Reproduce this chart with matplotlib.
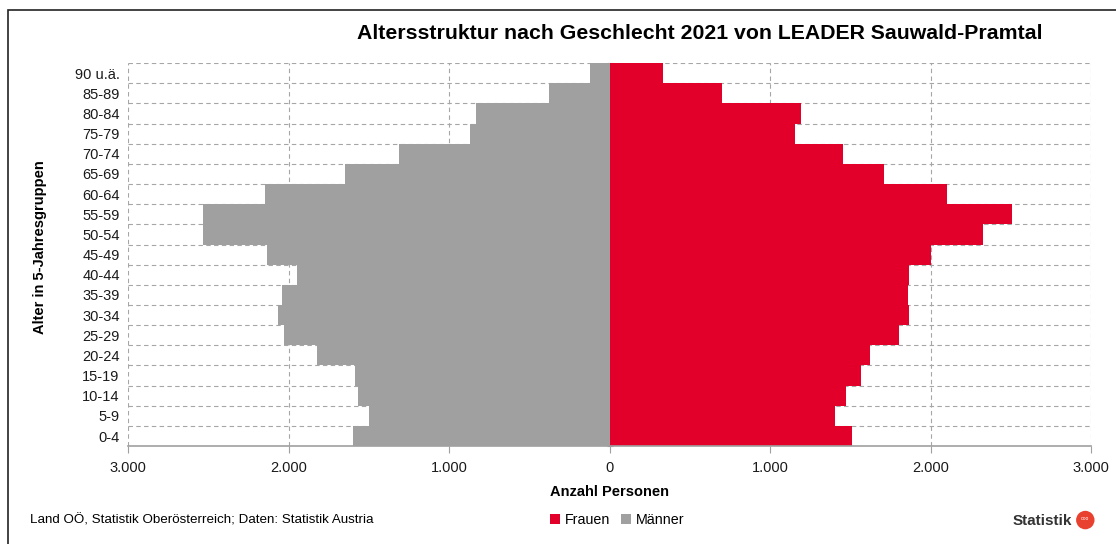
import numpy as np
import matplotlib.pyplot as plt
from matplotlib.patches import Rectangle, Ellipse
from matplotlib.ticker import FuncFormatter, FixedLocator

plt.rcParams['font.family'] = ['Liberation Sans', 'DejaVu Sans']

# Data
age_groups = ['0-4', '5-9', '10-14', '15-19', '20-24', '25-29', '30-34', '35-39',
              '40-44', '45-49', '50-54', '55-59', '60-64', '65-69', '70-74',
              '75-79', '80-84', '85-89', '90 u.ä.']
maenner = [1600, 1501, 1570, 1585, 1824, 2031, 2065, 2043, 1947, 2134,
           2535, 2530, 2146, 1649, 1314, 871, 829, 377, 123]
frauen = [1510, 1402, 1471, 1568, 1620, 1805, 1863, 1857, 1863, 2000,
          2326, 2510, 2100, 1707, 1452, 1154, 1191, 701, 332]

red = '#e2002a'
grey = '#a0a0a0'
gridc = '#a6a6a6'

fig = plt.figure(figsize=(11.16, 5.44), dpi=100)
ax = fig.add_axes([0.1147, 0.180, 0.863, 0.704])

y = np.arange(len(age_groups))
ax.barh(y, -np.array(maenner), height=1.0, color=grey, label='Männer', zorder=2)
ax.barh(y, frauen, height=1.0, color=red, label='Frauen', zorder=2)

ax.set_xlim(-3000, 3000)
ax.set_ylim(-0.5, len(age_groups) - 0.5)

# grid
ax.set_xticks(np.arange(-3000, 3001, 1000))
ax.xaxis.set_major_formatter(FuncFormatter(lambda v, p: f'{abs(int(v)):,}'.replace(',', '.')))
ax.set_yticks(y)
ax.set_yticklabels(age_groups)
ax.yaxis.set_minor_locator(FixedLocator(np.arange(-0.5, len(age_groups), 1.0)))
ax.grid(axis='x', which='major', color=gridc, linestyle=(0, (4, 3)), linewidth=0.8, zorder=0)
ax.grid(axis='y', which='minor', color=gridc, linestyle=(0, (4, 3)), linewidth=0.8, zorder=0)
ax.set_axisbelow(True)
for s in ['top', 'right', 'left']:
    ax.spines[s].set_visible(False)
ax.spines['bottom'].set_color('#a0a0a0')
ax.spines['bottom'].set_linewidth(1.2)
ax.tick_params(axis='x', colors='#a0a0a0', labelcolor='#1a1a1a', length=5, labelsize=10.5, pad=6)
ax.tick_params(axis='y', which='both', length=0, labelsize=10.5, labelcolor='#1a1a1a', pad=6)

# y axis at zero with small ticks
sec = ax.secondary_yaxis(0.5)
sec.set_yticks(np.arange(-0.5, len(age_groups), 1.0))
sec.set_yticklabels([])
sec.tick_params(length=4, direction='inout', color='#8c8c8c')
sec.spines['left'].set_visible(False)
sec.spines['right'].set_visible(False)

ax.set_xlabel('Anzahl Personen', fontsize=10.5, fontweight='bold', labelpad=7)
fig.text(0.036, 0.545, 'Alter in 5-Jahresgruppen', rotation=90, fontsize=10.5,
         fontweight='bold', ha='center', va='center')

fig.text(0.627, 0.938, 'Altersstruktur nach Geschlecht 2021 von LEADER Sauwald-Pramtal',
         fontsize=15.3, fontweight='bold', ha='center', va='center')

fig.text(0.027, 0.044, 'Land OÖ, Statistik Oberösterreich; Daten: Statistik Austria',
         fontsize=9.6, ha='left', va='center')

handles, labels = ax.get_legend_handles_labels()
leg = fig.legend([handles[1], handles[0]], [labels[1], labels[0]], loc='center',
                 bbox_to_anchor=(0.553, 0.044), ncol=2, frameon=False, fontsize=10.3,
                 handlelength=0.7, handleheight=0.7, handletextpad=0.3, columnspacing=0.8)

# logo
fig.text(0.961, 0.042, 'Statistik', fontsize=11, fontweight='bold', color='#333333',
         ha='right', va='center')
fig.patches.append(Ellipse((0.9725, 0.044), 0.0165, 0.034, transform=fig.transFigure,
                           facecolor='#e8412f', edgecolor='none', figure=fig))
fig.text(0.9725, 0.046, 'ooo', fontsize=3.5, color='white', ha='center', va='center')

# outer frame
fig.patches.append(Rectangle((0.0072, -0.01), 1.2, 0.992, transform=fig.transFigure,
                             fill=False, edgecolor='#222222', linewidth=1.2, figure=fig))

fig.savefig('out.png', dpi=100)
